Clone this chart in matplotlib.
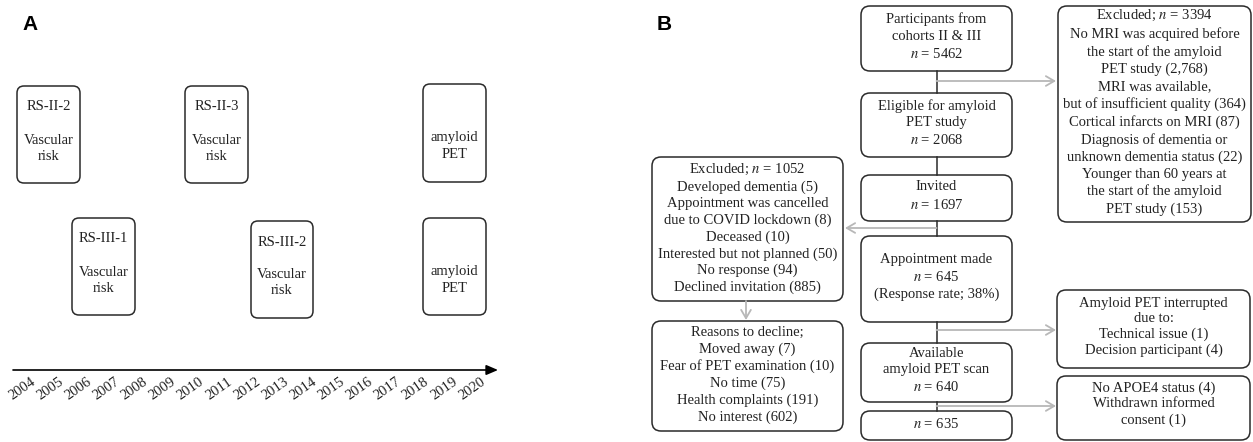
import matplotlib
matplotlib.use('Agg')
import matplotlib.pyplot as plt
from matplotlib.patches import FancyBboxPatch

plt.rcParams['font.family'] = ['Liberation Serif', 'DejaVu Serif']
plt.rcParams['mathtext.fontset'] = 'stix'

# ---- panel A data
years = [2004, 2005, 2006, 2007, 2008, 2009, 2010, 2011, 2012,
         2013, 2014, 2015, 2016, 2017, 2018, 2019, 2020]
visit_titles = ['RS-II-2', 'RS-II-3', '', 'RS-III-1', 'RS-III-2', '']
visit_bodies = ['Vascular\nrisk', 'Vascular\nrisk', 'amyloid\nPET',
                'Vascular\nrisk', 'Vascular\nrisk', 'amyloid\nPET']

# ---- panel B data
main_texts = ['Participants from\ncohorts II & III\n$n$ = 5462',
              'Eligible for amyloid\nPET study\n$n$ = 2068',
              'Invited\n$n$ = 1697',
              'Appointment made\n$n$ = 645\n(Response rate; 38%)',
              'Available\namyloid PET scan\n$n$ = 640',
              '$n$ = 635']
excl_mri = ('Excluded; $n$ = 3394\nNo MRI was acquired before\nthe start of the amyloid\n'
            'PET study (2,768)\nMRI was available,\nbut of insufficient quality (364)\n'
            'Cortical infarcts on MRI (87)\nDiagnosis of dementia or\n'
            'unknown dementia status (22)\nYounger than 60 years at\n'
            'the start of the amyloid\nPET study (153)')
excl_invite = ('Excluded; $n$ = 1052\nDeveloped dementia (5)\nAppointment was cancelled\n'
               'due to COVID lockdown (8)\nDeceased (10)\nInterested but not planned (50)\n'
               'No response (94)\nDeclined invitation (885)')
decline = ('Reasons to decline;\nMoved away (7)\nFear of PET examination (10)\n'
           'No time (75)\nHealth complaints (191)\nNo interest (602)')
interrupted = 'Amyloid PET interrupted\ndue to:\nTechnical issue (1)\nDecision participant (4)'
apoe = 'No APOE4 status (4)\nWithdrawn informed\nconsent (1)'

# layout in pixels (x0, y0, x1, y1)
visit_pos = [(17, 86, 80, 183), (185, 86, 248, 183), (423, 84, 486, 182),
             (72, 218, 135, 315), (251, 221, 313, 318), (423, 218, 486, 315)]
main_pos = [(861, 6, 1012, 71), (861, 93, 1012, 157), (861, 175, 1012, 221),
            (861, 236, 1012, 322), (861, 343, 1012, 402), (861, 411, 1012, 440)]

W, H = 1253, 442
fig = plt.figure(figsize=(W / 100, H / 100), dpi=100)
ax = fig.add_axes([0, 0, 1, 1])
ax.set_xlim(0, W)
ax.set_ylim(H, 0)
ax.axis('off')

EC = '#2a2a2a'
GRAY = '#b8b8b8'


def box(x0, y0, x1, y1, r=9, lw=1.1):
    p = FancyBboxPatch((x0, y0), x1 - x0, y1 - y0,
                       boxstyle='round,pad=0,rounding_size=%d' % r,
                       fc='white', ec=EC, lw=lw)
    ax.add_patch(p)


def txt(x, y, s, fs=10.5, ls=1.35):
    ax.text(x, y, s, ha='center', va='center', fontsize=fs,
            linespacing=ls, color='#222222')


def garrow(x0, y0, x1, y1):
    ax.annotate('', xy=(x1, y1), xytext=(x0, y0),
                arrowprops=dict(arrowstyle='->,head_length=0.6,head_width=0.35',
                                color=GRAY, lw=1.3, shrinkA=0, shrinkB=0))


# panel labels
ax.text(22, 25, 'A', fontsize=15, fontweight='bold', family='Liberation Sans',
        va='center', ha='left')
ax.text(657, 25, 'B', fontsize=15, fontweight='bold', family='Liberation Sans',
        va='center', ha='left')

# ---- panel A
for (x0, y0, x1, y1), t, b in zip(visit_pos, visit_titles, visit_bodies):
    box(x0, y0, x1, y1, r=7)
    cx = (x0 + x1) / 2
    if t:
        txt(cx, y0 + 21, t, fs=10.5)
    txt(cx, y0 + 62, b, fs=10.5, ls=1.3)

ax.annotate('', xy=(498, 370), xytext=(13, 370),
            arrowprops=dict(arrowstyle='-|>,head_length=0.7,head_width=0.3',
                            color='black', lw=1.2, shrinkA=0, shrinkB=0))
x_first, x_last = 22, 472
step = (x_last - x_first) / (years[-1] - years[0])
for yr in years:
    ax.text(x_first + (yr - years[0]) * step, 389, str(yr), rotation=35,
            ha='center', va='center', fontsize=10.5, color='#222222')

# ---- panel B connectors (drawn first, boxes on top)
cx = 936.5
for i in range(len(main_pos) - 1):
    ax.plot([cx, cx], [main_pos[i][3], main_pos[i + 1][1]], color=EC, lw=1.1)
garrow(cx, 81, 1056, 81)
garrow(cx, 228, 845, 228)
garrow(cx, 330, 1056, 330)
garrow(cx, 406, 1056, 406)
garrow(746, 301, 746, 320)

for (x0, y0, x1, y1), t in zip(main_pos, main_texts):
    box(x0, y0, x1, y1)
    txt((x0 + x1) / 2, (y0 + y1) / 2 - 2, t, ls=1.37)

box(1058, 6, 1251, 222)
txt(1154.5, 112, excl_mri, ls=1.37)
box(652, 157, 843, 301)
txt(747.5, 228, excl_invite, ls=1.33)
box(652, 321, 843, 431)
txt(747.5, 375, decline, ls=1.34)
box(1057, 290, 1250, 368)
txt(1153.5, 327, interrupted, ls=1.22)
box(1057, 376, 1250, 440)
txt(1153.5, 404, apoe, ls=1.26)

fig.savefig('out.png', dpi=100)
